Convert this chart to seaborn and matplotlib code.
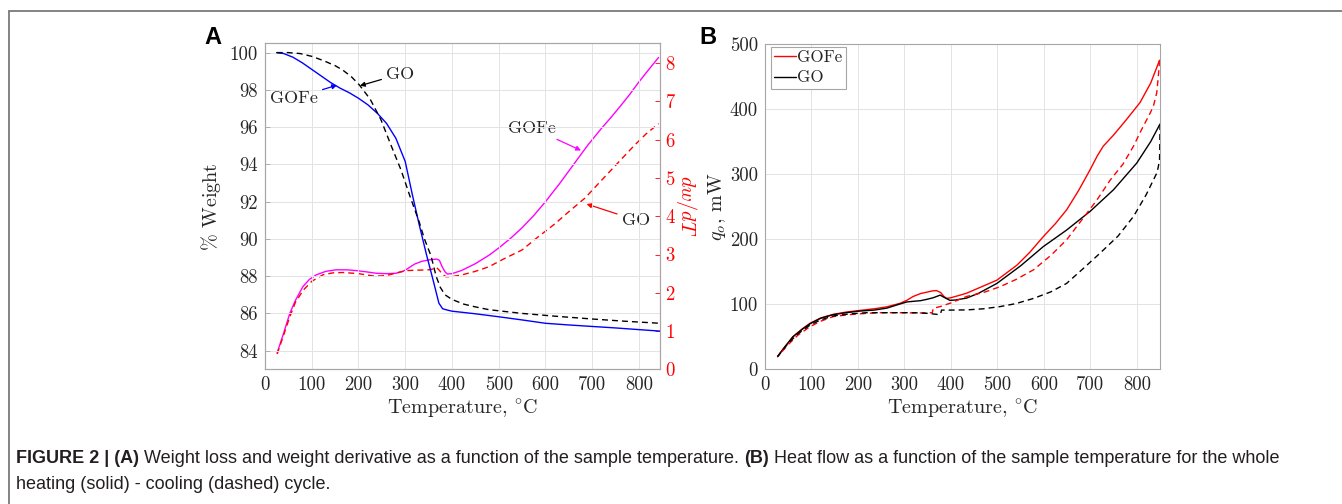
import numpy as np
import pandas as pd
import matplotlib
matplotlib.use("Agg")
import matplotlib.pyplot as plt
from matplotlib.lines import Line2D
import seaborn as sns

# ---------------- data: panel A (weight, left axis) ----------------
tA_gofe_w = [25, 40, 60, 80, 100, 120, 140, 160, 180, 200, 220, 240, 260, 280, 300,
             315, 330, 345, 360, 372, 380, 390, 400, 450, 500, 550, 600, 650, 700,
             750, 800, 845]
w_gofe = [100, 99.95, 99.75, 99.45, 99.1, 98.75, 98.4, 98.1, 97.85, 97.55, 97.2,
          96.75, 96.2, 95.4, 94.15, 92.4, 90.75, 89.2, 87.75, 86.55, 86.25, 86.18,
          86.12, 85.98, 85.82, 85.65, 85.47, 85.38, 85.3, 85.22, 85.13, 85.05]

tA_go_w = [25, 50, 75, 100, 125, 150, 167, 185, 202, 225, 248, 270, 291, 310, 330,
           341, 355, 366, 375, 385, 400, 425, 450, 479, 550, 621, 700, 770, 845]
w_go = [100, 100, 99.95, 99.8, 99.57, 99.3, 99.05, 98.7, 98.26, 97.5, 96.4, 95.0,
        93.7, 92.3, 90.9, 90.0, 89.1, 88.0, 87.4, 87.0, 86.75, 86.5, 86.35, 86.2,
        86.0, 85.85, 85.7, 85.58, 85.47]

# ---------------- data: panel A (dw/dT, right axis) ----------------
tA_gofe_d = [26, 40, 53, 65, 81, 95, 110, 130, 152, 175, 195, 215, 238, 260, 280,
             295, 305, 320, 335, 351, 367, 373, 379, 385, 390, 400, 420, 450, 479,
             500, 525, 550, 575, 600, 630, 660, 690, 720, 740, 763, 780, 798, 820,
             842]
d_gofe = [0.43, 0.95, 1.46, 1.8, 2.16, 2.35, 2.47, 2.56, 2.6, 2.6, 2.58, 2.55, 2.51,
          2.5, 2.51, 2.56, 2.63, 2.75, 2.82, 2.86, 2.88, 2.85, 2.68, 2.55, 2.49,
          2.5, 2.58, 2.76, 2.98, 3.17, 3.42, 3.7, 4.02, 4.38, 4.85, 5.35, 5.85, 6.3,
          6.58, 6.92, 7.18, 7.48, 7.82, 8.15]

tA_go_d = [26, 40, 53, 65, 82, 100, 124, 145, 167, 200, 231, 250, 266, 285, 302,
           325, 351, 362, 367, 372, 380, 387, 400, 422, 450, 479, 510, 550, 580,
           620, 650, 685, 713, 740, 763, 790, 815, 842]
d_go = [0.4, 0.9, 1.37, 1.75, 2.07, 2.3, 2.47, 2.52, 2.53, 2.5, 2.44, 2.44, 2.47,
        2.53, 2.58, 2.59, 2.6, 2.63, 2.66, 2.6, 2.48, 2.42, 2.42, 2.47, 2.56, 2.68,
        2.88, 3.12, 3.42, 3.8, 4.12, 4.48, 4.85, 5.2, 5.5, 5.85, 6.15, 6.42]

# ---------------- data: panel B (heat flow) ----------------
tB_gofe_heat = [27, 40, 60, 80, 97, 120, 147, 175, 204, 235, 262, 291, 305, 319, 335,
                348, 360, 369, 378, 385, 391, 400, 420, 434, 460, 499, 542, 570, 599,
                625, 649, 675, 699, 715, 728, 750, 778, 807, 830, 849]
q_gofe_heat = [19.5, 32, 50, 62, 70.8, 79, 84.5, 88, 90.5, 93, 96, 101.5, 106, 112,
               116.5, 118.5, 120.5, 121, 118, 112, 109, 110, 114, 117, 125, 137, 160,
               180, 204, 224, 245, 275, 306, 328, 343, 360, 384, 410, 440, 475]

tB_go_heat = [27, 40, 60, 80, 97, 120, 147, 175, 204, 235, 262, 291, 305, 319, 335,
              348, 362, 377, 387, 398, 410, 434, 460, 499, 550, 599, 649, 700, 750,
              800, 830, 850]
q_go_heat = [19.5, 32, 50, 61.5, 70, 78.5, 84, 87, 89.5, 91, 94, 100.5, 103.5, 104.5,
             105.5, 107.5, 110, 114, 110, 106, 106.5, 109.5, 117, 132, 159, 188.7, 214,
             243, 276, 317, 350, 377]

tB_gofe_cool = [849, 847, 843, 836, 829, 810, 793, 770, 743, 714, 680, 649, 615, 578,
                540, 506, 470, 434, 400, 377, 362, 360, 330, 291, 250, 219, 180, 147,
                120, 97, 70, 50, 27]
q_gofe_cool = [475, 455, 425, 405, 394, 368, 343, 315, 291, 260, 228, 199, 175, 153,
               138, 127, 118, 112, 102, 96.4, 93.8, 87, 86.5, 87, 87, 86, 84, 81, 74,
               65.6, 52, 38, 19.5]

tB_go_cool = [850, 849.5, 849, 846, 843, 820, 793, 760, 721, 685, 649, 615, 578, 540,
              506, 470, 434, 400, 380, 378, 375, 350, 320, 291, 250, 219, 180, 147,
              120, 97, 70, 50, 27]
q_go_cool = [377, 340, 322, 310, 301.5, 268, 235, 205, 178.5, 155, 132, 119, 109, 101,
             96.4, 93, 91.3, 91, 91, 86, 84, 86, 87, 87, 87, 87, 85, 82, 76, 68, 54,
             40, 19.5]

xticks = [0, 100, 200, 300, 400, 500, 600, 700, 800]
yticksA = [84, 86, 88, 90, 92, 94, 96, 98, 100]
yticksA2 = [0, 1, 2, 3, 4, 5, 6, 7, 8]
yticksB = [0, 100, 200, 300, 400, 500]

# annotation anchors (text position, arrow tip) in data units
ann_left = [("GO", (289, 98.85), (203, 98.22), "black"),
            ("GOFe", (62, 97.55), (154, 98.25), "blue")]
ann_right = [("GOFe", (571, 6.31), (676, 5.72), "magenta"),
             ("GO", (793, 3.9), (688, 4.32), "red")]

# ---------------- style ----------------
sns.set_style("whitegrid")
plt.rcParams.update({
    "font.family": ["cmr10", "DejaVu Serif"],
    "mathtext.fontset": "cm",
    "axes.formatter.use_mathtext": True,
    "axes.unicode_minus": False,
    "axes.edgecolor": "#a6a6a6",
    "axes.linewidth": 0.8,
    "grid.color": "#e3e3e3",
    "grid.linewidth": 0.7,
    "xtick.direction": "in",
    "ytick.direction": "in",
})

TXT = "#262626"
DASH = (0, (4.3, 2.9))
LW = 1.0
TICK_FS = 13.5
LAB_FS = 14.5

fig = plt.figure(figsize=(13.42, 5.04), dpi=100)
W, H = 1342.0, 504.0


def rect(l, t, r, b):
    return [l / W, 1 - b / H, (r - l) / W, (b - t) / H]


axA = fig.add_axes(rect(265, 43.3, 660, 369.3))
axB = fig.add_axes(rect(765, 44.0, 1160, 369.3))


def line(ax, x, y, color, ls="-"):
    df = pd.DataFrame({"T": x, "v": y})
    sns.lineplot(data=df, x="T", y="v", ax=ax, color=color, lw=LW, sort=False,
                 estimator=None)
    l = ax.get_lines()[-1]
    if ls != "-":
        l.set_linestyle(DASH)
    return l


# ---- panel A ----
axA.set_xlim(0, 845)
axA.set_ylim(83, 100.5)
ax2 = axA.twinx()
ax2.set_ylim(0, 8.52)
ax2.grid(False)

line(ax2, tA_gofe_d, d_gofe, "magenta")
line(ax2, tA_go_d, d_go, "red", "--")
line(axA, tA_gofe_w, w_gofe, "blue")
line(axA, tA_go_w, w_go, "black", "--")
axA.set_zorder(ax2.get_zorder() + 1)
axA.patch.set_visible(False)

axA.set_xticks(xticks)
axA.set_yticks(yticksA)
axA.set_xticklabels([str(t) for t in xticks])
axA.set_yticklabels([str(t) for t in yticksA])
ax2.set_yticks(yticksA2)
ax2.set_yticklabels([str(t) for t in yticksA2])
axA.tick_params(axis="both", labelsize=TICK_FS, colors=TXT, length=3.5, width=0.6,
                color="#a6a6a6", pad=5)
axA.tick_params(axis="both", which="both", right=False, top=False)
ax2.tick_params(axis="y", labelsize=TICK_FS, colors="red", length=3.5, width=0.6, pad=4)
axA.set_xlabel(r"Temperature, $^{\circ}$C", fontsize=LAB_FS, color=TXT, labelpad=2)
axA.set_ylabel(r"$\%$ Weight", fontsize=LAB_FS, color=TXT, labelpad=5)
ax2.set_xlabel("")
ax2.set_ylabel(r"$dw/dT$", fontsize=LAB_FS, color="red", rotation=-90, labelpad=17)

for txt, xyt, xy, col in ann_left:
    axA.annotate(txt, xy=xy, xytext=xyt, fontsize=13, color=TXT, ha="center",
                 va="center", arrowprops=dict(arrowstyle="-|>", color=col, lw=0.9,
                                              mutation_scale=7, shrinkA=1, shrinkB=0))
for txt, xyt, xy, col in ann_right:
    ax2.annotate(txt, xy=xy, xytext=xyt, fontsize=13, color=TXT, ha="center",
                 va="center", arrowprops=dict(arrowstyle="-|>", color=col, lw=0.9,
                                              mutation_scale=7, shrinkA=1, shrinkB=0))

# ---- panel B ----
axB.set_xlim(0, 850)
axB.set_ylim(0, 500)
line(axB, tB_gofe_heat, q_gofe_heat, "red")
line(axB, tB_go_heat, q_go_heat, "black")
line(axB, tB_gofe_cool, q_gofe_cool, "red", "--")
line(axB, tB_go_cool, q_go_cool, "black", "--")
axB.set_xticks(xticks)
axB.set_yticks(yticksB)
axB.set_xticklabels([str(t) for t in xticks])
axB.set_yticklabels([str(t) for t in yticksB])
axB.tick_params(axis="both", labelsize=TICK_FS, colors=TXT, length=3.5, width=0.6,
                color="#a6a6a6", pad=5)
axB.set_xlabel(r"Temperature, $^{\circ}$C", fontsize=LAB_FS, color=TXT, labelpad=2)
axB.set_ylabel(r"$q_o$, mW", fontsize=LAB_FS, color=TXT, labelpad=1)
leg = axB.legend([Line2D([], [], color="red", lw=LW), Line2D([], [], color="black", lw=LW)],
                 ["GOFe", "GO"], loc="upper left", bbox_to_anchor=(6 / 395, 1 - 2.7 / 325.3),
                 borderaxespad=0, fontsize=12.2, handlelength=1.25, handletextpad=0.1,
                 borderpad=0.2, labelspacing=0.28, fancybox=False, framealpha=1,
                 edgecolor="#a6a6a6")
leg.get_frame().set_linewidth(0.8)
for t in leg.get_texts():
    t.set_color(TXT)

for ax in (axA, axB, ax2):
    for s in ax.spines.values():
        s.set_visible(True)
        s.set_color("#a6a6a6")
        s.set_linewidth(0.8)
ax2.spines["right"].set_color("#ff8c8c")

# panel letters
fig.text(213 / W, 1 - 37 / H, "A", fontsize=17, fontweight="bold",
         family="Liberation Sans", ha="center", va="center", color="black")
fig.text(708 / W, 1 - 37 / H, "B", fontsize=17, fontweight="bold",
         family="Liberation Sans", ha="center", va="center", color="black")

# frame lines
fig.add_artist(Line2D([9 / W, 1], [1 - 10.5 / H] * 2, transform=fig.transFigure,
                      color="#7a7a7a", lw=1.3))
fig.add_artist(Line2D([9 / W, 9 / W], [0, 1 - 10.5 / H], transform=fig.transFigure,
                      color="#7a7a7a", lw=1.3))

# caption
line1 = [("FIGURE 2 | (A)", "bold"),
         (" Weight loss and weight derivative as a function of the sample temperature. ", "normal"),
         ("(B)", "bold"),
         (" Heat flow as a function of the sample temperature for the whole", "normal")]
line2 = [("heating (solid) - cooling (dashed) cycle.", "normal")]

renderer = fig.canvas.get_renderer()


def measure(pieces, size):
    tot = 0
    for s, wt in pieces:
        t = fig.text(0, 0, s, fontsize=size, fontweight=wt, family="Liberation Sans")
        tot += t.get_window_extent(renderer).width
        t.remove()
    return tot


size = 10.0 * 1264.0 / measure(line1, 10.0)


def draw(pieces, x0, yc):
    x = x0
    for s, wt in pieces:
        t = fig.text(x / W, 1 - yc / H, s, fontsize=size, fontweight=wt,
                     family="Liberation Sans", ha="left", va="baseline", color="#231f20")
        x += t.get_window_extent(renderer).width


draw(line1, 16, 463)
draw(line2, 16, 489)

fig.savefig("out.png", dpi=100)
